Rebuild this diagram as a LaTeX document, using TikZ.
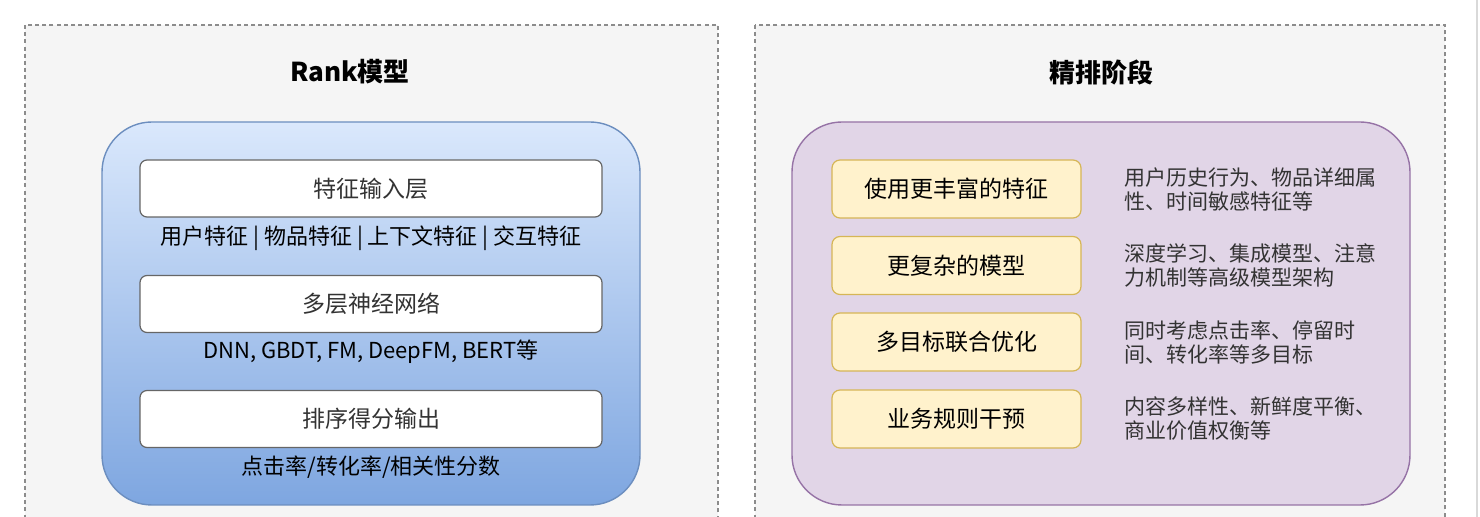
\documentclass[tikz,border=0pt]{standalone}
\usepackage{fontspec}
\setmainfont{Noto Sans CJK SC}
\usetikzlibrary{positioning}
\definecolor{panelBg}   {HTML}{F5F5F5}
\definecolor{panelLine} {HTML}{8C8C8C}
\definecolor{blueTop}   {HTML}{DAE8FC}
\definecolor{blueBot}   {HTML}{7EA6E0}
\definecolor{blueLine}  {HTML}{6C8EBF}
\definecolor{purpleFill}{HTML}{E1D5E7}
\definecolor{purpleLine}{HTML}{9673A6}
\definecolor{yellowFill}{HTML}{FFF2CC}
\definecolor{yellowLine}{HTML}{D6B656}
\definecolor{ink}       {HTML}{333333}
\definecolor{boxLine}   {HTML}{666666}

\begin{document}
\begin{tikzpicture}[x=0.5pt,y=-0.5pt,
  panel/.style={draw=panelLine, fill=panelBg, dash pattern=on 2pt off 1.6pt, line width=0.6pt},
  heading/.style={font=\fontsize{13}{16}\selectfont\bfseries, text=black},
  layer/.style={draw=boxLine, fill=white, rounded corners=3.5pt, line width=0.6pt,
                minimum width=231pt, minimum height=28.5pt,
                font=\fontsize{11.5}{14}\selectfont, text=ink},
  layernote/.style={font=\fontsize{11}{13}\selectfont, text=black},
  stagebox/.style={draw=yellowLine, fill=yellowFill, rounded corners=4pt, line width=0.6pt,
                   minimum width=124.5pt, minimum height=29pt,
                   font=\fontsize{11.5}{14}\selectfont, text=black},
  detail/.style={font=\fontsize{10.5}{12}\selectfont, text=ink, align=left,
                 anchor=west, inner sep=0pt}]
  \useasboundingbox (0,0) rectangle (1480,517);
  \clip (0,0) rectangle (1480,517);
  \fill[white] (0,0) rectangle (1480,517);

  % two dashed panels
  \draw[panel] (25,25) rectangle (718,545);
  \draw[panel] (755,25) rectangle (1445,545);
  \draw[gray!30, line width=0.8pt] (1477,0) -- (1477,517);

  % left: rank model
  \node[heading] (rankTitle) at (350,72) {Rank模型};
  \draw[blueLine, line width=0.7pt, top color=blueTop, bottom color=blueBot,
        rounded corners=25pt] (102,122) rectangle (640,505);
  \node[layer] (inputLayer) at (371,188.5) {特征输入层};
  \node[layernote] (inputNote) at (371,238) {用户特征 | 物品特征 | 上下文特征 | 交互特征};
  \node[layer] (dnnLayer) at (371,304) {多层神经网络};
  \node[layernote] (dnnNote) at (371,352) {DNN, GBDT, FM, DeepFM, BERT等};
  \node[layer] (scoreLayer) at (371,419) {排序得分输出};
  \node[layernote] (scoreNote) at (371,467) {点击率/转化率/相关性分数};

  % right: fine ranking stage
  \node[heading] (stageTitle) at (1101,72) {精排阶段};
  \draw[purpleLine, line width=0.7pt, fill=purpleFill,
        rounded corners=25pt] (792,122) rectangle (1410,505);
  \foreach \name/\yy/\head/\desc in {
      feat/189/使用更丰富的特征/{用户历史行为、物品详细属\\性、时间敏感特征等},
      model/265.5/更复杂的模型/{深度学习、集成模型、注意\\力机制等高级模型架构},
      goal/342/多目标联合优化/{同时考虑点击率、停留时\\间、转化率等多目标},
      rule/419/业务规则干预/{内容多样性、新鲜度平衡、\\商业价值权衡等}}{
    \node[stagebox] (stage\name) at (956.5,\yy) {\head};
    \node[detail] (detail\name) at (1124,\yy) {\desc};
  }
\end{tikzpicture}
\end{document}
